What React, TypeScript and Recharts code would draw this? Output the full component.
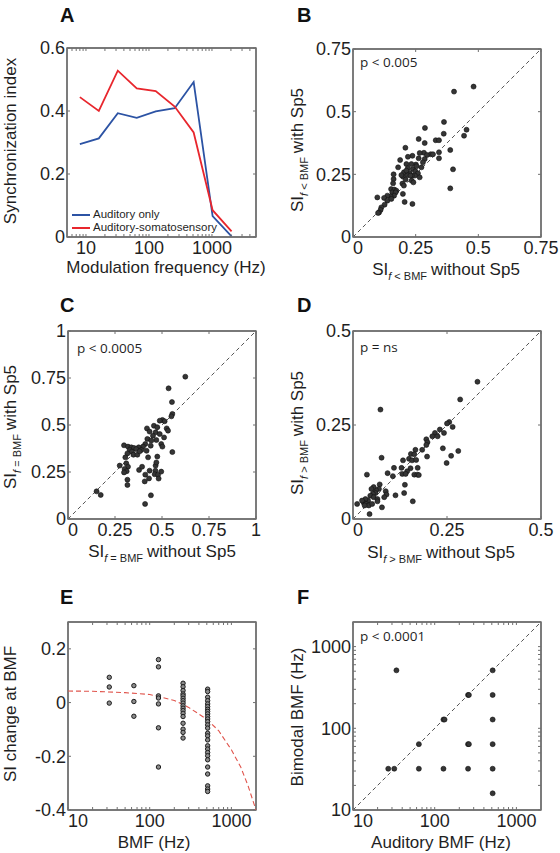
import React from 'react';
import { LineChart, Line, ScatterChart, Scatter, XAxis, YAxis, ReferenceLine, ReferenceArea } from 'recharts';

const FONT = '"Liberation Sans", Arial, Helvetica, sans-serif';
const P_FONT = '"Open Sans", "Liberation Sans", sans-serif';
const INK = '#1f1f1f';
const FRAME = '#707070';

// A: synchronization index vs modulation frequency
const MOD_FREQ = [8, 16, 32, 64, 128, 256, 512, 1024, 2048];
const SI_AUDITORY = [0.295, 0.313, 0.393, 0.378, 0.399, 0.409, 0.492, 0.066, 0.002];
const SI_BIMODAL = [0.444, 0.4, 0.528, 0.472, 0.463, 0.414, 0.332, 0.085, 0.018];

// B: f < BMF
const B_WITHOUT = [0.481, 0.403, 0.453, 0.443, 0.363, 0.362, 0.287, 0.262, 0.209, 0.33, 0.343, 0.388, 0.343, 0.343, 0.399, 0.388, 0.286, 0.283, 0.31, 0.319, 0.266, 0.295, 0.237, 0.219, 0.188, 0.262, 0.286, 0.279, 0.251, 0.213, 0.219, 0.203, 0.239, 0.249, 0.226, 0.259, 0.266, 0.247, 0.235, 0.218, 0.199, 0.193, 0.162, 0.162, 0.21, 0.234, 0.241, 0.197, 0.203, 0.16, 0.152, 0.165, 0.173, 0.157, 0.17, 0.199, 0.164, 0.15, 0.137, 0.124, 0.097, 0.137, 0.153, 0.206, 0.237, 0.126, 0.113, 0.11, 0.104, 0.1, 0.229, 0.253, 0.273, 0.233, 0.18, 0.213];
const B_WITH = [0.6, 0.58, 0.428, 0.404, 0.459, 0.412, 0.435, 0.391, 0.356, 0.386, 0.386, 0.347, 0.338, 0.314, 0.27, 0.194, 0.375, 0.336, 0.33, 0.33, 0.335, 0.327, 0.324, 0.32, 0.307, 0.314, 0.311, 0.298, 0.289, 0.291, 0.275, 0.258, 0.271, 0.262, 0.255, 0.254, 0.238, 0.245, 0.245, 0.247, 0.241, 0.247, 0.25, 0.231, 0.229, 0.225, 0.218, 0.213, 0.205, 0.214, 0.191, 0.189, 0.185, 0.178, 0.178, 0.172, 0.165, 0.162, 0.165, 0.156, 0.158, 0.145, 0.152, 0.14, 0.132, 0.129, 0.118, 0.108, 0.098, 0.096, 0.245, 0.282, 0.278, 0.291, 0.278, 0.265];

// C: f = BMF
const C_WITHOUT = [0.624, 0.535, 0.553, 0.555, 0.55, 0.502, 0.514, 0.488, 0.525, 0.532, 0.42, 0.457, 0.475, 0.434, 0.466, 0.488, 0.511, 0.452, 0.422, 0.443, 0.47, 0.496, 0.502, 0.44, 0.411, 0.399, 0.376, 0.39, 0.418, 0.426, 0.475, 0.555, 0.298, 0.319, 0.337, 0.351, 0.363, 0.328, 0.34, 0.316, 0.348, 0.305, 0.369, 0.381, 0.275, 0.31, 0.319, 0.301, 0.312, 0.298, 0.316, 0.316, 0.378, 0.394, 0.466, 0.465, 0.47, 0.434, 0.411, 0.431, 0.461, 0.479, 0.482, 0.496, 0.408, 0.441, 0.41, 0.152, 0.174];
const C_WITH = [0.757, 0.695, 0.622, 0.559, 0.546, 0.527, 0.52, 0.523, 0.482, 0.47, 0.482, 0.496, 0.488, 0.465, 0.461, 0.452, 0.434, 0.443, 0.426, 0.417, 0.42, 0.399, 0.385, 0.39, 0.399, 0.385, 0.381, 0.367, 0.363, 0.328, 0.332, 0.356, 0.392, 0.385, 0.381, 0.378, 0.372, 0.367, 0.358, 0.349, 0.342, 0.328, 0.342, 0.36, 0.284, 0.296, 0.278, 0.266, 0.254, 0.248, 0.209, 0.181, 0.261, 0.278, 0.284, 0.257, 0.301, 0.257, 0.236, 0.216, 0.238, 0.236, 0.215, 0.252, 0.2, 0.126, 0.08, 0.147, 0.128];

// D: f > BMF
const D_WITHOUT = [0.331, 0.285, 0.073, 0.256, 0.25, 0.265, 0.242, 0.231, 0.218, 0.211, 0.225, 0.195, 0.198, 0.195, 0.184, 0.197, 0.239, 0.28, 0.261, 0.249, 0.166, 0.154, 0.163, 0.133, 0.149, 0.157, 0.168, 0.172, 0.153, 0.144, 0.129, 0.131, 0.14, 0.163, 0.171, 0.175, 0.109, 0.106, 0.092, 0.076, 0.037, 0.138, 0.136, 0.113, 0.159, 0.087, 0.089, 0.083, 0.071, 0.069, 0.061, 0.055, 0.049, 0.06, 0.053, 0.046, 0.055, 0.065, 0.04, 0.033, 0.028, 0.035, 0.042, 0.051, 0.077, 0.044, 0.011, 0.024, 0.065, 0.031];
const D_WITH = [0.365, 0.318, 0.291, 0.258, 0.254, 0.245, 0.229, 0.238, 0.229, 0.22, 0.22, 0.212, 0.204, 0.197, 0.184, 0.166, 0.188, 0.181, 0.168, 0.149, 0.184, 0.173, 0.172, 0.156, 0.16, 0.156, 0.157, 0.136, 0.135, 0.127, 0.136, 0.12, 0.12, 0.118, 0.118, 0.117, 0.136, 0.114, 0.122, 0.163, 0.118, 0.091, 0.069, 0.063, 0.047, 0.074, 0.065, 0.058, 0.092, 0.08, 0.077, 0.085, 0.08, 0.069, 0.067, 0.062, 0.058, 0.053, 0.049, 0.053, 0.044, 0.04, 0.036, 0.04, 0.031, 0.013, 0.04, 0.049, 0.047, 0.036];

// E: SI change at BMF
const E_BMF = [32, 32, 32, 64, 64, 64, 128, 128, 128, 128, 128, 128, 128, 256, 256, 256, 256, 256, 256, 256, 256, 256, 256, 256, 256, 256, 256, 256, 256, 256, 512, 512, 512, 512, 512, 512, 512, 512, 512, 512, 512, 512, 512, 512, 512, 512, 512, 512, 512, 512, 512, 512, 512, 512, 512, 512, 512];
const E_CHANGE = [0.094, 0.058, -0.002, 0.063, 0.004, -0.051, 0.16, 0.133, 0.025, 0.017, -0.005, -0.094, -0.24, 0.072, 0.059, 0.045, 0.032, 0.025, 0.016, 0.007, -0.002, -0.012, -0.021, -0.03, -0.04, -0.052, -0.077, -0.099, -0.111, -0.132, 0.05, 0.041, 0.02, 0.007, -0.005, -0.015, -0.025, -0.033, -0.042, -0.052, -0.061, -0.071, -0.083, -0.095, -0.114, -0.124, -0.139, -0.161, -0.173, -0.186, -0.198, -0.213, -0.24, -0.266, -0.31, -0.322, -0.331];
const E_FIT_BMF = [10, 20, 50, 100, 200, 300, 500, 700, 1000, 1300, 1600, 2000];
const E_FIT_SI = [0.043, 0.042, 0.037, 0.03, 0.008, -0.018, -0.062, -0.105, -0.176, -0.24, -0.31, -0.4];

// F: BMF auditory vs bimodal
const F_AUD = [34, 512, 256, 262, 128, 132, 64, 27, 32, 64, 128, 256, 512, 256, 262, 512, 512, 512, 512];
const F_BIM = [512, 512, 256, 256, 128, 128, 64, 32, 32, 32, 32, 32, 32, 64, 64, 64, 128, 256, 16];

// tick lists
const LOG_TICKS_A = [6, 7, 8, 9, 10, 20, 30, 40, 50, 60, 70, 80, 90, 100, 200, 300, 400, 500, 600, 700, 800, 900, 1000, 2000, 3000, 4000];
const LOG_TICKS = [10, 20, 30, 40, 50, 60, 70, 80, 90, 100, 200, 300, 400, 500, 600, 700, 800, 900, 1000];
const LOG_LABELS = [10, 100, 1000];

type Ax = { domain: [number, number]; ticks: number[]; log?: boolean; labels?: number[] };
type Box = { left: number; top: number; w: number; h: number };

const fmt = (labels?: number[]) => (v: number) =>
  labels ? (labels.includes(v) ? String(v) : '') : String(v);

const noDot = () => <g />;

// bottom labels: the one sitting on the left corner is left-aligned so it clears the y labels
const bottomTick = (x: Ax) => (p: any) => {
  const v = p.payload.value;
  const s = fmt(x.labels)(v);
  if (!s) return <g />;
  const first = v === x.domain[0];
  return (
    <text x={first ? p.x : p.x} y={p.y} dy="0.71em" textAnchor={first ? 'start' : 'middle'}
      fill={INK} fontSize={18} fontFamily={FONT}>{s}</text>
  );
};

// MATLAB-style box: labelled bottom/left axes plus bare top/right axes, ticks pointing in
function axes(x: Ax, y: Ax, xKey = 'x', yKey = 'y') {
  const common = {
    allowDataOverflow: true,
    interval: 0 as const,
    tickSize: -3,
    axisLine: { stroke: FRAME, strokeWidth: 1.4 },
    tickLine: { stroke: FRAME, strokeWidth: 1 },
    type: 'number' as const,
  };
  return [
    <XAxis key="xb" xAxisId="b" dataKey={xKey} scale={x.log ? 'log' : 'linear'} domain={x.domain} ticks={x.ticks}
      height={30} tickMargin={7} tick={bottomTick(x)} {...common} />,
    <XAxis key="xt" xAxisId="t" dataKey={xKey} orientation="top" scale={x.log ? 'log' : 'linear'} domain={x.domain}
      ticks={x.ticks} height={1} tick={noDot} {...common} />,
    <YAxis key="yl" yAxisId="l" dataKey={yKey} scale={y.log ? 'log' : 'linear'} domain={y.domain} ticks={y.ticks}
      tickFormatter={fmt(y.labels)} width={55} tickMargin={5}
      tick={{ fill: INK, fontSize: 18, fontFamily: FONT }} {...common} />,
    <YAxis key="yr" yAxisId="r" dataKey={yKey} orientation="right" scale={y.log ? 'log' : 'linear'} domain={y.domain}
      ticks={y.ticks} width={1} tick={noDot} {...common} />,
    <ReferenceArea key="box" xAxisId="b" yAxisId="l" x1={x.domain[0]} x2={x.domain[1]} y1={y.domain[0]} y2={y.domain[1]}
      ifOverflow="visible" fill="none" fillOpacity={0} stroke={FRAME} strokeWidth={1.4} />,
  ];
}

const MARGIN = { top: 9, right: 24, bottom: 0, left: 0 };
const place = (b: Box): React.CSSProperties => ({ position: 'absolute', left: b.left - 55, top: b.top - 10 });

const dot = (p: any) => <circle cx={p.cx} cy={p.cy} r={2.5} fill="#353535" stroke="#111" strokeWidth={0.6} />;
const ring = (p: any) => <circle cx={p.cx} cy={p.cy} r={2.2} fill="#8c8c8c" stroke="#1c1c1c" strokeWidth={1} />;

function ScatterPanel({ box, xs, ys, x, y, diag }: { box: Box; xs: number[]; ys: number[]; x: Ax; y: Ax; diag: [number, number] }) {
  const pts = xs.map((v, i) => ({ x: v, y: ys[i] }));
  return (
    <div style={place(box)}>
      <ScatterChart width={box.w + 80} height={box.h + 40} margin={MARGIN}>
        {axes(x, y)}
        <ReferenceLine xAxisId="b" yAxisId="l" ifOverflow="visible"
          segment={[{ x: diag[0], y: diag[0] }, { x: diag[1], y: diag[1] }]}
          stroke="#555" strokeWidth={1} strokeDasharray="4 3" />
        <Scatter xAxisId="t" yAxisId="r" data={pts} shape={noDot} isAnimationActive={false} />
        <Scatter xAxisId="b" yAxisId="l" data={pts} shape={dot} isAnimationActive={false} />
      </ScatterChart>
    </div>
  );
}

const text = (extra: React.CSSProperties): React.CSSProperties => ({
  position: 'absolute', fontFamily: FONT, color: INK, whiteSpace: 'nowrap', lineHeight: 1, ...extra,
});

function HTitle({ x, y, children }: { x: number; y: number; children: React.ReactNode }) {
  return <div style={text({ left: x, top: y, fontSize: 17, transform: 'translate(-50%, -50%)' })}>{children}</div>;
}
function VTitle({ x, y, children }: { x: number; y: number; children: React.ReactNode }) {
  return <div style={text({ left: x, top: y, fontSize: 17, transform: 'translate(-50%, -50%) rotate(-90deg)' })}>{children}</div>;
}
const Sub = ({ s }: { s: string }) => (
  <span style={{ fontSize: 11, position: 'relative', top: 5, marginRight: 4 }}>
    <i>f</i> {s} BMF
  </span>
);
const Letter = ({ x, y, c }: { x: number; y: number; c: string }) => (
  <div style={text({ left: x, top: y, fontSize: 20, fontWeight: 'bold', color: '#111' })}>{c}</div>
);
const PVal = ({ x, y, t }: { x: number; y: number; t: string }) => (
  <div style={text({ left: x, top: y, fontSize: 13.5, fontFamily: P_FONT })}>{t}</div>
);

const BOX_A: Box = { left: 67, top: 48, w: 189, h: 189 };
const BOX_B: Box = { left: 353, top: 49, w: 188, h: 188 };
const BOX_C: Box = { left: 68, top: 331, w: 188, h: 188 };
const BOX_D: Box = { left: 353, top: 331, w: 188, h: 188 };
const BOX_E: Box = { left: 68, top: 622, w: 188, h: 188 };
const BOX_F: Box = { left: 353, top: 622, w: 188, h: 188 };

export default function App() {
  const aData = MOD_FREQ.map((f, i) => ({ f, aud: SI_AUDITORY[i], bim: SI_BIMODAL[i] }));
  const ePts = E_BMF.map((v, i) => ({ x: v, y: E_CHANGE[i] }));
  const eFit = E_FIT_BMF.map((v, i) => ({ x: v, y: E_FIT_SI[i] }));
  const fPts = F_AUD.map((v, i) => ({ x: v, y: F_BIM[i] }));
  const logAx: Ax = { domain: [10, 2000], ticks: LOG_TICKS, log: true, labels: LOG_LABELS };

  return (
    <div style={{ position: 'absolute', left: 0, top: 0, width: 560, height: 853, background: '#fff', overflow: 'hidden' }}>
      {/* A */}
      <div style={place(BOX_A)}>
        <LineChart width={BOX_A.w + 80} height={BOX_A.h + 40} margin={MARGIN} data={aData}>
          {axes(
            { domain: [5, 5000], ticks: LOG_TICKS_A, log: true, labels: LOG_LABELS },
            { domain: [0, 0.6], ticks: [0, 0.2, 0.4, 0.6] },
            'f',
            'aud',
          )}
          <Line xAxisId="t" yAxisId="r" dataKey="aud" stroke="none" dot={false} isAnimationActive={false} />
          <Line xAxisId="b" yAxisId="l" dataKey="aud" stroke="#2c53a4" strokeWidth={1.8} dot={false} isAnimationActive={false} />
          <Line xAxisId="b" yAxisId="l" dataKey="bim" stroke="#e8262d" strokeWidth={1.8} dot={false} isAnimationActive={false} />
        </LineChart>
      </div>
      <div style={text({ left: 72, top: 208, fontSize: 11.5 })}>
        <div style={{ display: 'flex', alignItems: 'center', height: 13 }}>
          <span style={{ width: 18, height: 0, borderTop: '2px solid #2c53a4', marginRight: 3 }} />Auditory only
        </div>
        <div style={{ display: 'flex', alignItems: 'center', height: 13 }}>
          <span style={{ width: 18, height: 0, borderTop: '2px solid #e8262d', marginRight: 3 }} />Auditory-somatosensory
        </div>
      </div>

      <ScatterPanel box={BOX_B} xs={B_WITHOUT} ys={B_WITH} diag={[0, 0.75]}
        x={{ domain: [0, 0.75], ticks: [0, 0.25, 0.5, 0.75] }} y={{ domain: [0, 0.75], ticks: [0, 0.25, 0.5, 0.75] }} />
      <ScatterPanel box={BOX_C} xs={C_WITHOUT} ys={C_WITH} diag={[0, 1]}
        x={{ domain: [0, 1], ticks: [0, 0.25, 0.5, 0.75, 1] }} y={{ domain: [0, 1], ticks: [0, 0.25, 0.5, 0.75, 1] }} />
      <ScatterPanel box={BOX_D} xs={D_WITHOUT} ys={D_WITH} diag={[0, 0.5]}
        x={{ domain: [0, 0.5], ticks: [0, 0.25, 0.5] }} y={{ domain: [0, 0.5], ticks: [0, 0.25, 0.5] }} />

      {/* E */}
      <div style={place(BOX_E)}>
        <ScatterChart width={BOX_E.w + 80} height={BOX_E.h + 40} margin={MARGIN}>
          {axes(logAx, { domain: [-0.4, 0.3], ticks: [-0.4, -0.2, 0, 0.2] })}
          <Scatter xAxisId="t" yAxisId="r" data={ePts} shape={noDot} isAnimationActive={false} />
          <Scatter xAxisId="b" yAxisId="l" data={eFit} shape={noDot} isAnimationActive={false}
            line={{ stroke: '#e0544c', strokeWidth: 1.1, strokeDasharray: '5 3' }} />
          <Scatter xAxisId="b" yAxisId="l" data={ePts} shape={ring} isAnimationActive={false} />
        </ScatterChart>
      </div>

      {/* F */}
      <div style={place(BOX_F)}>
        <ScatterChart width={BOX_F.w + 80} height={BOX_F.h + 40} margin={MARGIN}>
          {axes(logAx, logAx)}
          <ReferenceLine xAxisId="b" yAxisId="l" ifOverflow="visible"
            segment={[{ x: 10, y: 10 }, { x: 2000, y: 2000 }]}
            stroke="#555" strokeWidth={1} strokeDasharray="4 3" />
          <Scatter xAxisId="t" yAxisId="r" data={fPts} shape={noDot} isAnimationActive={false} />
          <Scatter xAxisId="b" yAxisId="l" data={fPts} shape={dot} isAnimationActive={false} />
        </ScatterChart>
      </div>

      {/* panel letters */}
      <Letter x={60} y={5} c="A" />
      <Letter x={297} y={5} c="B" />
      <Letter x={60} y={295} c="C" />
      <Letter x={297} y={295} c="D" />
      <Letter x={60} y={587} c="E" />
      <Letter x={297} y={587} c="F" />

      {/* p values */}
      <PVal x={360} y={56} t="p < 0.005" />
      <PVal x={77} y={342} t="p < 0.0005" />
      <PVal x={360} y={341} t="p = ns" />
      <PVal x={360} y={630} t="p < 0.0001" />

      {/* axis titles */}
      <HTitle x={166} y={267}>Modulation frequency (Hz)</HTitle>
      <VTitle x={10} y={141}>Synchronization index</VTitle>
      <HTitle x={446} y={269}>SI<Sub s="<" />without Sp5</HTitle>
      <VTitle x={297} y={150}>SI<Sub s="<" />with Sp5</VTitle>
      <HTitle x={162} y={551}>SI<Sub s="=" />without Sp5</HTitle>
      <VTitle x={10} y={427}>SI<Sub s="=" />with Sp5</VTitle>
      <HTitle x={441} y={552}>SI<Sub s=">" />without Sp5</HTitle>
      <VTitle x={297} y={433}>SI<Sub s=">" />with Sp5</VTitle>
      <VTitle x={10} y={714}>SI change at BMF</VTitle>
      <HTitle x={154} y={842}>BMF (Hz)</HTitle>
      <VTitle x={297} y={717}>Bimodal BMF (Hz)</VTitle>
      <HTitle x={441} y={842}>Auditory BMF (Hz)</HTitle>
    </div>
  );
}
